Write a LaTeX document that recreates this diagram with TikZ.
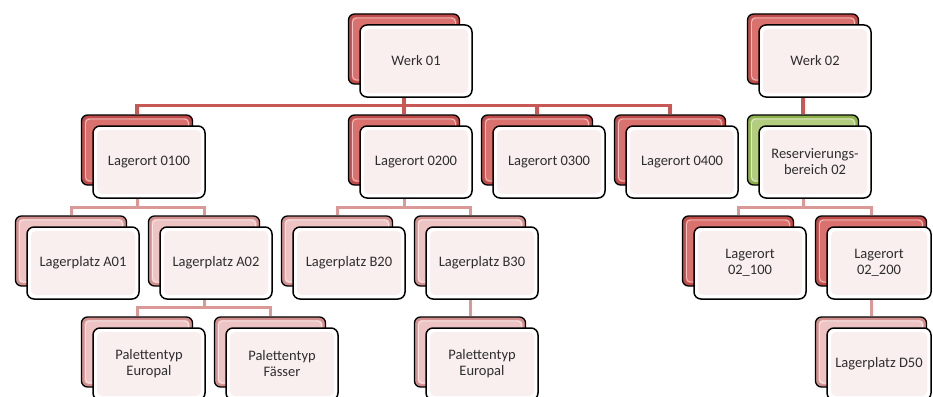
\documentclass[tikz,border=0pt]{standalone}
\usepackage{fontspec}
\setmainfont{Carlito}
\usetikzlibrary{backgrounds}
\definecolor{redout}{HTML}{BF4B48}
\definecolor{redin}{HTML}{D9726F}
\definecolor{pinkout}{HTML}{D38F8D}
\definecolor{pinkin}{HTML}{EDC4C3}
\definecolor{greenout}{HTML}{8EB04A}
\definecolor{greenin}{HTML}{B3CD80}
\definecolor{frontin}{HTML}{FAEFEF}
\definecolor{txt}{HTML}{2E2E2E}
\definecolor{conndark}{HTML}{C75855}
\definecolor{connlight}{HTML}{DA9896}
\tikzset{
  backbox/.style 2 args={draw=black, line width=1.3pt, rounded corners=6pt,
    minimum width=111pt, minimum height=70pt, inner sep=0pt, fill=#1,
    path picture={
      \fill[#2, rounded corners=4pt]
        ([shift={(3pt,-3pt)}]path picture bounding box.north west) rectangle
        ([shift={(-3pt,3pt)}]path picture bounding box.south east);
      \draw[white, opacity=0.6, line width=0.8pt, rounded corners=4pt]
        ([shift={(4pt,-4pt)}]path picture bounding box.north west) rectangle
        ([shift={(-4pt,4pt)}]path picture bounding box.south east);
    }},
  redback/.style={backbox={redout}{redin}},
  pinkback/.style={backbox={pinkout}{pinkin}},
  greenback/.style={backbox={greenout}{greenin}},
  frontbox/.style={draw=black, line width=1.5pt, rounded corners=7pt,
    minimum width=112pt, minimum height=72pt, inner sep=2pt, fill=white,
    align=center, text=txt, font=\fontsize{14.5}{16}\selectfont,
    path picture={
      \fill[frontin, rounded corners=5pt]
        ([shift={(4pt,-4pt)}]path picture bounding box.north west) rectangle
        ([shift={(-4pt,4pt)}]path picture bounding box.south east);
    }},
  narrow/.style={minimum width=104pt},
  conn0/.style={draw=conndark, line width=3.5pt},
  conn1/.style={draw=connlight, line width=3pt},
}
\newcommand\elem[6][]{%
  \node[#5] (#2b) at (#3,#4) {};
  \node[frontbox,#1] (#2) at (#3+12,#4+12) {#6};}
\begin{document}
\begin{tikzpicture}[x=1pt,y=-1pt]
\useasboundingbox (0,0) rectangle (933,396);
\clip (0,0) rectangle (933,396);
% level 0
\elem{w01}{404}{49}{redback}{Werk 01}
\elem{w02}{803}{49}{redback}{Werk 02}
% level 1
\elem{l0100}{137}{150}{redback}{Lagerort 0100}
\elem{l0200}{404}{150}{redback}{Lagerort 0200}
\elem{l0300}{537}{150}{redback}{Lagerort 0300}
\elem{l0400}{670}{150}{redback}{Lagerort 0400}
\elem{res}{803}{150}{greenback}{Reservierungs-\\bereich 02}
% level 2
\elem{a01}{71}{251}{pinkback}{Lagerplatz A01}
\elem{a02}{204}{251}{pinkback}{Lagerplatz A02}
\elem{b20}{337}{251}{pinkback}{Lagerplatz B20}
\elem{b30}{470}{251}{pinkback}{Lagerplatz B30}
\elem{l02a}{738}{251}{redback}{Lagerort\\02\_100}
\elem[narrow,xshift=-4pt]{l02b}{871}{251}{redback}{Lagerort\\02\_200}
% level 3
\elem{peu}{137}{352}{pinkback}{Palettentyp\\Europal}
\elem{pfa}{270}{352}{pinkback}{Palettentyp\\Fässer}
\elem{peu2}{470}{352}{pinkback}{Palettentyp\\Europal}
\elem[narrow,xshift=-4pt]{d50}{871}{352}{pinkback}{Lagerplatz D50}
% connectors
\begin{pgfonlayer}{background}
\fill[white] (0,0) rectangle (933,396);
\foreach \c in {l0100b,l0200b,l0300b,l0400b}
  \draw[conn0] (w01b.south) -- ++(0,21) -| (\c.north);
\draw[conn0] (w02b.south) -- (resb.north);
\foreach \c in {a01b,a02b}
  \draw[conn1] (l0100b.south) -- ++(0,22) -| (\c.north);
\foreach \c in {b20b,b30b}
  \draw[conn1] (l0200b.south) -- ++(0,22) -| (\c.north);
\foreach \c in {l02ab,l02bb}
  \draw[conn1] (resb.south) -- ++(0,22) -| (\c.north);
\foreach \c in {peub,pfab}
  \draw[conn1] (a02b.south) -- ++(0,21) -| (\c.north);
\draw[conn1] (b30b.south) -- (peu2b.north);
\draw[conn1] (l02bb.south) -- (d50b.north);
\end{pgfonlayer}
\end{tikzpicture}
\end{document}
